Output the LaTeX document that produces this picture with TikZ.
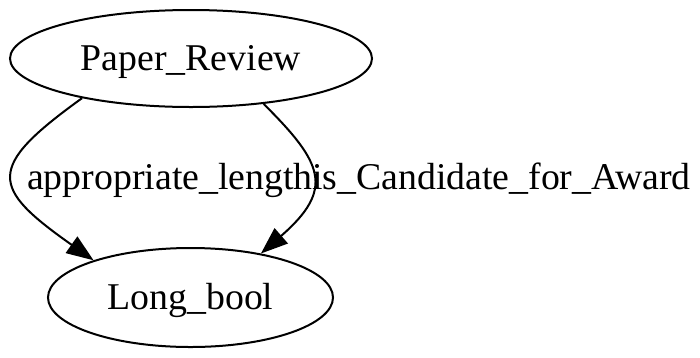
\documentclass[tikz,border=0pt]{standalone}
\usepackage{fontspec}
\setmainfont{Liberation Serif}
\usetikzlibrary{arrows.meta,shapes.geometric}
\begin{document}
\begin{tikzpicture}[x=1pt,y=1pt,
  every node/.style={font=\fontsize{37.8}{45}\selectfont},
  state/.style={draw, ellipse, line width=2pt, inner sep=0pt,
    text height=24pt, text depth=0pt},
  edge/.style={line width=2pt, -{Triangle[length=27pt,width=20pt]}},
  elabel/.style={anchor=base west, inner sep=0pt}]
\useasboundingbox (0,0) rectangle (700,-357);
% graph nodes
\node[state, minimum width=362pt, minimum height=97pt] (pr) at (191,-58.5) {Paper\_Review};
\node[state, minimum width=285pt, minimum height=99pt] (lb) at (190.5,-297.5) {Long\_bool};
% edges
\draw[edge] (pr.200) .. controls (-15,-168) and (-9.5,-187.5) .. (lb.159);
\draw[edge] (pr.-32) .. controls (323,-163) and (335,-189) .. (lb.32);
% edge labels
\node[elabel] (l1) at (27,-189) {appropriate\_length};
\node[elabel] (l2) at (312,-189) {is\_Candidate\_for\_Award};
\end{tikzpicture}
\end{document}
